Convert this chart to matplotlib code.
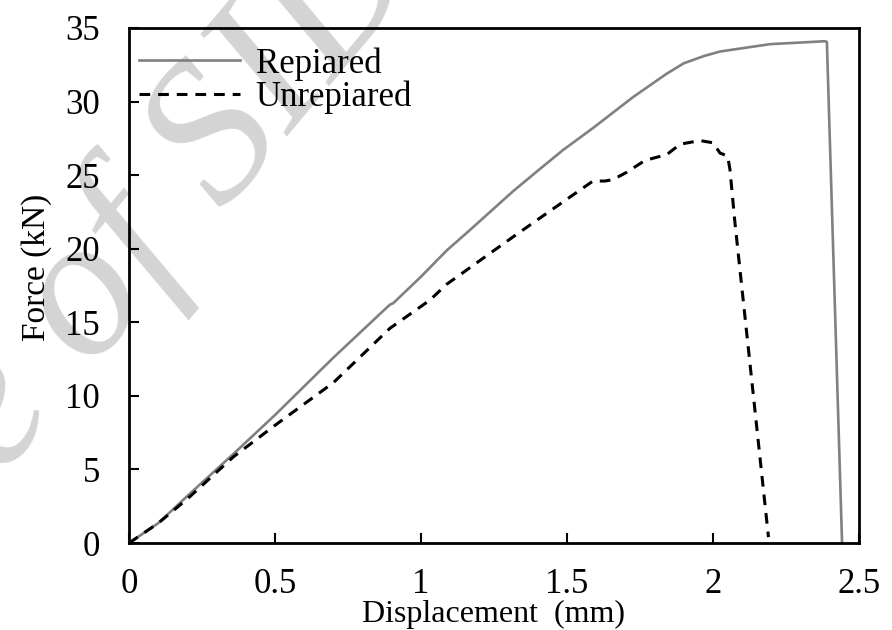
import matplotlib
matplotlib.use("Agg")
import matplotlib.pyplot as plt

plt.rcParams['font.family'] = ['Liberation Serif', 'DejaVu Serif']

# force-displacement curves
repaired_x = [0, 0.10, 0.20, 0.36, 0.50, 0.70, 0.88, 0.894, 0.905, 1.00, 1.089,
              1.158, 1.315, 1.40, 1.486, 1.589, 1.726, 1.842, 1.90, 1.97, 2.024,
              2.195, 2.384, 2.39, 2.442]
repaired_y = [0, 1.35, 3.2, 6.1, 8.7, 12.6, 15.95, 16.2, 16.3, 18.1, 19.9,
              21.1, 23.9, 25.3, 26.7, 28.2, 30.3, 31.9, 32.6, 33.1, 33.4,
              33.9, 34.1, 34.05, 0]

unrepaired_x = [0, 0.10, 0.20, 0.357, 0.50, 0.70, 0.894, 1.03, 1.089, 1.315, 1.43,
                1.589, 1.63, 1.658, 1.705, 1.767, 1.842, 1.887, 1.955, 2.0, 2.024,
                2.05, 2.058, 2.075, 2.19]
unrepaired_y = [0, 1.35, 3.0, 5.85, 8.0, 10.9, 14.6, 16.5, 17.6, 20.8, 22.4,
                24.6, 24.6, 24.7, 25.2, 26.0, 26.4, 27.1, 27.35, 27.2, 26.5,
                26.3, 25.4, 21.8, 0.4]

x_ticks = [0, 0.5, 1, 1.5, 2, 2.5]
x_tick_labels = ['0', '0.5', '1', '1.5', '2', '2.5']
y_ticks = [0, 5, 10, 15, 20, 25, 30, 35]

fig = plt.figure(figsize=(8.92, 6.3), dpi=100)
ax = fig.add_axes([0.1446, 0.138, 0.8184, 0.8176])
ax.patch.set_visible(False)

# faint watermark behind the plot
fig.text(0.481, 1.029, 'Archive of SID', fontsize=145, style='italic',
         color='#d4d4d4', rotation=50, rotation_mode='anchor',
         ha='right', va='baseline', zorder=-1)

ax.plot(repaired_x, repaired_y, color='#808080', lw=1.9, label='Repiared')
ax.plot(unrepaired_x, unrepaired_y, color='black', lw=2.2, dashes=(3.5, 2.6),
        label='Unrepiared')

ax.set_xlim(0, 2.5)
ax.set_ylim(0, 35)
ax.set_xticks(x_ticks)
ax.set_xticklabels(x_tick_labels)
ax.set_yticks(y_ticks)
ax.tick_params(direction='in', length=7, width=1.5, labelsize=25)
ax.tick_params(axis='x', pad=18)
ax.tick_params(axis='y', pad=21)
for sp in ax.spines.values():
    sp.set_linewidth(2)

ax.set_xlabel('Displacement  (mm)', fontsize=23)
ax.set_ylabel('Force (kN)', fontsize=24)
ax.xaxis.set_label_coords(0.5, -0.11)
ax.yaxis.set_label_coords(-0.105, 0.536)

ax.legend(loc='upper left', bbox_to_anchor=(-0.012, 1.0), frameon=False, fontsize=25,
          handlelength=2.9, handletextpad=0.45, labelspacing=0.0,
          borderaxespad=0.3, borderpad=0.25)

fig.savefig('out.png', dpi=100)
